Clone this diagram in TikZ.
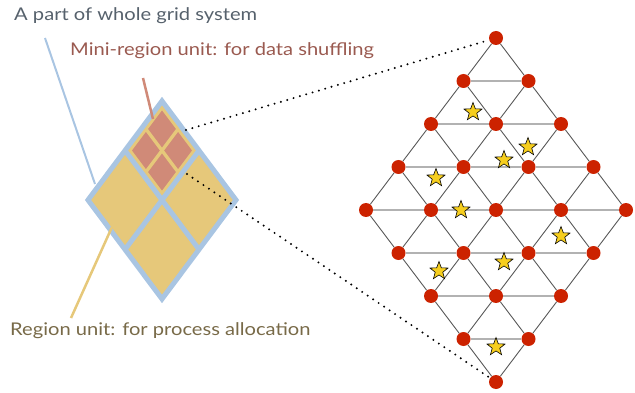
\documentclass[tikz,border=0pt]{standalone}
\usepackage{fontspec}
\setmainfont{Lato}[FakeStretch=1.15]
\usetikzlibrary{shapes.geometric}
\definecolor{gridblue}{HTML}{A9C5E2}
\definecolor{regyel}{HTML}{E6C87A}
\definecolor{minired}{HTML}{D08A78}
\definecolor{nodered}{HTML}{CC2200}
\definecolor{staryel}{HTML}{F6CE1E}
\definecolor{txtgray}{HTML}{56616C}
\definecolor{txtred}{HTML}{9A5A50}
\definecolor{txtolive}{HTML}{786A48}

\begin{document}
\begin{tikzpicture}[x=1pt,y=-1pt,
    every node/.style={font=\fontsize{17.5}{20}\selectfont},
    gpt/.style={circle,fill=nodered,inner sep=0pt,minimum size=14pt},
    sstar/.style={star,star points=5,star point ratio=2.4,fill=staryel,draw=black,
      line width=0.6pt,inner sep=0pt,minimum size=19pt},
    hline/.style={draw=gray!60,line width=1.4pt},
    dline/.style={draw=black!65,line width=0.9pt},
    dots/.style={line width=2.2pt,dash pattern=on 0pt off 6.6pt,line cap=round}]
    \useasboundingbox (0,0) rectangle (635,393);

    % labels
    \node[anchor=base west,text=txtgray,inner sep=0pt] (whole) at (14,21) {A part of whole grid system};
    \node[anchor=base west,text=txtred,inner sep=0pt] (mini) at (70,56) {Mini-region unit: for data shuffling};
    \node[anchor=base west,text=txtolive,inner sep=0pt] (region) at (10,335) {Region unit: for process allocation};

    % the small grid part
    \coordinate (T) at (162,101);
    \coordinate (R) at (236,200);
    \coordinate (B) at (162,299);
    \coordinate (L) at (88,200);
    \coordinate (C) at (162,200);
    \coordinate (TLm) at (125,150.5);
    \coordinate (TRm) at (199,150.5);
    \coordinate (BRm) at (199,249.5);
    \coordinate (BLm) at (125,249.5);
    \begin{scope}
      \clip (T) -- (R) -- (B) -- (L) -- cycle;
      \fill[regyel] (T) -- (R) -- (B) -- (L) -- cycle;
      \fill[minired] (T) -- (TRm) -- (C) -- (TLm) -- cycle;
      \draw[regyel,line width=11pt,line join=round] (T) -- (TRm) -- (C) -- (TLm) -- cycle;
      \draw[regyel,line width=3.3pt] (143.5,125.75) -- (180.5,175.25) (180.5,125.75) -- (143.5,175.25);
    \end{scope}
    \draw[gridblue,line width=5pt] (TLm) -- (BRm) (TRm) -- (BLm);
    \draw[gridblue,line width=5pt,line join=miter] (T) -- (R) -- (B) -- (L) -- cycle;

    % leaders
    \coordinate (wholetail) at (45,38);
    \coordinate (wholehead) at (95,184);
    \coordinate (minitail) at (143,78);
    \coordinate (minihead) at (153,119);
    \coordinate (regionhead) at (112,227);
    \coordinate (regiontail) at (71,318);
    \draw[gridblue,line width=2pt] (wholetail) -- (wholehead);
    \draw[minired,line width=2.5pt] (minitail) -- (minihead);
    \draw[regyel,line width=2.5pt] (regionhead) -- (regiontail);

    % zoomed grid
    \foreach \i in {0,...,4}{
      \foreach \j in {0,...,4}{
        \node[gpt] (n\i\j) at ({496+32.5*(\i-\j)},{38+43*(\i+\j)}) {};
      }
    }
    \foreach \i in {0,...,3}{
      \foreach \j in {0,...,4}{
        \pgfmathtruncatemacro\k{\i+1}
        \draw[dline] (n\i\j) -- (n\k\j);
        \draw[dline] (n\j\i) -- (n\j\k);
      }
      \foreach \j in {1,...,4}{
        \pgfmathtruncatemacro\k{\i+1}
        \pgfmathtruncatemacro\m{\j-1}
        \draw[hline] (n\i\j) -- (n\k\m);
      }
    }
    \foreach \x/\y [count=\s] in {473/112,528/147,504/160,436/178,461/210,561/236,504/262,439/271,496/347}
      \node[sstar] (s\s) at (\x,\y) {};

    % zoom lines
    \coordinate (dtop) at (186,130);
    \coordinate (dbot) at (187,174);
    \draw[dots] (dtop) -- (n00);
    \draw[dots] (dbot) -- (n44);
\end{tikzpicture}
\end{document}
